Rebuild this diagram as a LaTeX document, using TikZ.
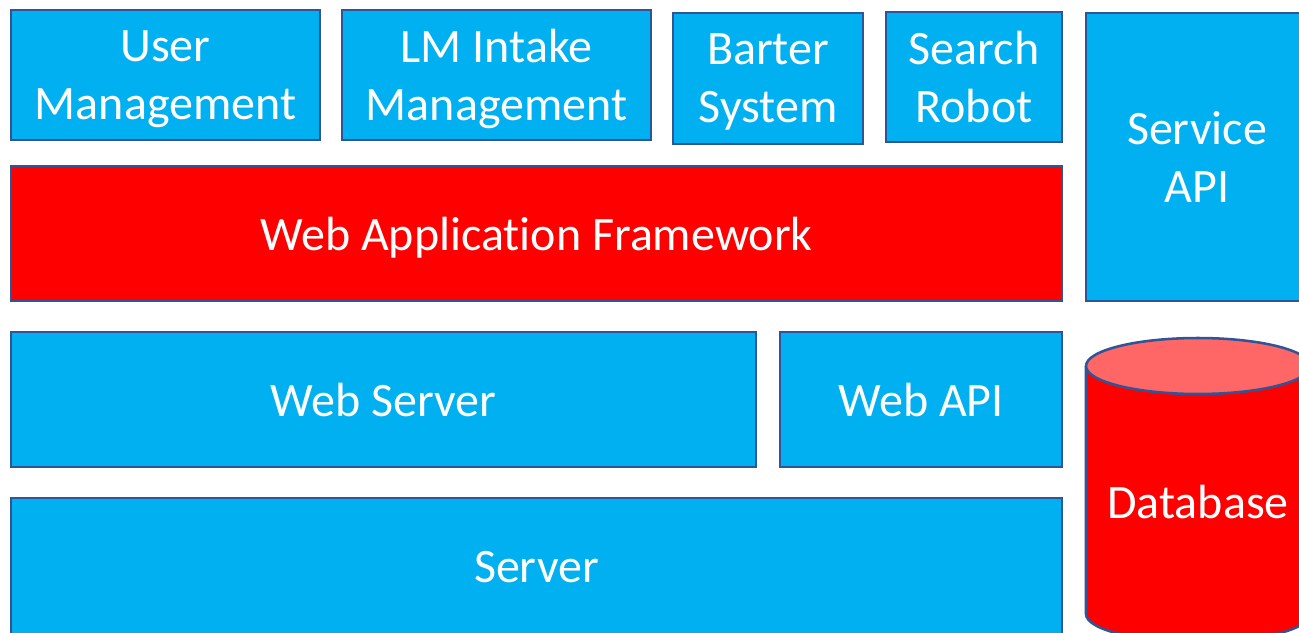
\documentclass[tikz,border=0pt]{standalone}
\usepackage{fontspec}
\setmainfont{Carlito}[Ligatures=NoCommon]
\definecolor{skyb}{HTML}{00B0F0}
\definecolor{bordc}{HTML}{2F5597}
\definecolor{toplight}{HTML}{FF6666}
\begin{document}
\begin{tikzpicture}[x=0.75pt,y=0.75pt,
  blk/.style={draw=bordc, fill=skyb, line width=1.9pt, text=white,
    font=\fontsize{36}{43.5}\selectfont, align=center, inner sep=0pt, text depth=0pt},
  redblk/.style={blk, fill=red},
  lbl/.style={text=white, font=\fontsize{36}{43.5}\selectfont, align=center, inner sep=0pt},
  outl/.style={draw=bordc, line width=1.9pt}]
\useasboundingbox (0,0) rectangle (1299,-632);
\clip (0,0) rectangle (1299,-632);
\node[blk, minimum width=309*0.75pt, minimum height=130*0.75pt] (user) at (165.5,-75) {User\\Management};
\node[blk, minimum width=309*0.75pt, minimum height=130*0.75pt] (lm) at (496.5,-75) {LM Intake\\Management};
\node[blk, minimum width=190*0.75pt, minimum height=131*0.75pt] (barter) at (768,-78.5) {Barter\\System};
\node[blk, minimum width=176*0.75pt, minimum height=130*0.75pt] (search) at (974,-77) {Search\\Robot};
\node[blk, minimum width=222*0.75pt, minimum height=288*0.75pt] (service) at (1197,-157) {Service\\API};
\node[redblk, minimum width=1051*0.75pt, minimum height=135*0.75pt] (waf) at (536.5,-233.5) {Web Application Framework};
\node[blk, minimum width=745*0.75pt, minimum height=135*0.75pt] (webserver) at (383.5,-399.5) {Web Server};
\node[blk, minimum width=282*0.75pt, minimum height=135*0.75pt] (webapi) at (921,-399.5) {Web API};
\node[blk, minimum width=1051*0.75pt, minimum height=138*0.75pt] (server) at (536.5,-567) {Server};
% database cylinder
\fill[red] (1086,-366) -- (1086,-614) arc[start angle=180,end angle=360,x radius=112,y radius=28] -- (1310,-366) -- cycle;
\draw[outl] (1086,-366) -- (1086,-614) arc[start angle=180,end angle=360,x radius=112,y radius=28] -- (1310,-366);
\draw[outl, fill=toplight] (1198,-366) ellipse[x radius=112, y radius=28];
\node[lbl] (db) at (1198,-502) {Database};
\end{tikzpicture}
\end{document}
